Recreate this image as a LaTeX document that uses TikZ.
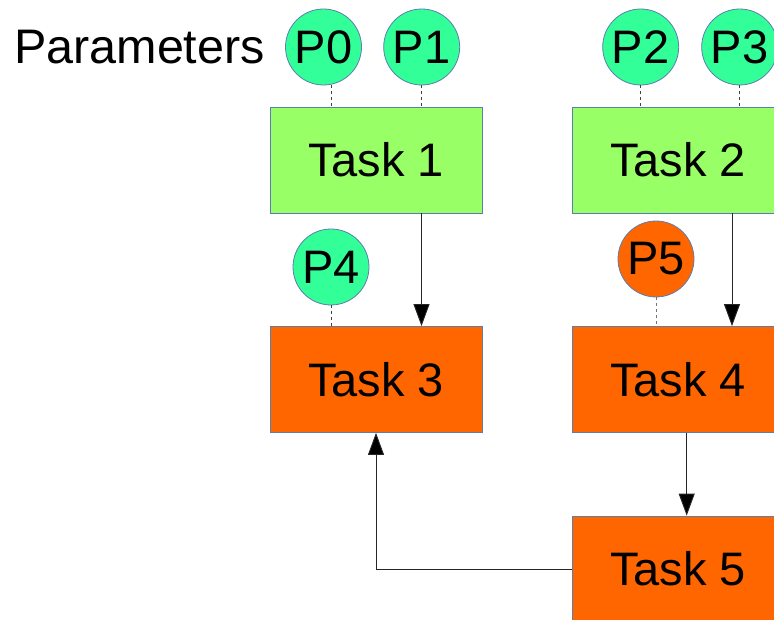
\documentclass[tikz,border=0pt]{standalone}
\usepackage{fontspec}
\setmainfont{Liberation Sans}
\usetikzlibrary{arrows.meta}
\definecolor{boxgreen}{HTML}{99FF66}
\definecolor{parmint}{HTML}{33FF99}
\definecolor{taskorange}{HTML}{FF6600}
\definecolor{edgeblue}{HTML}{5B7DB0}
\tikzset{
  taskbox/.style={rectangle, draw=edgeblue, line width=0.8pt, minimum width=212pt, minimum height=106pt, inner sep=0pt, font=\fontsize{47}{52}\selectfont},
  greenbox/.style={taskbox, fill=boxgreen},
  orangebox/.style={taskbox, fill=taskorange},
  parcircle/.style={circle, draw=edgeblue, line width=0.8pt, minimum size=76pt, inner sep=0pt, font=\fontsize{47}{52}\selectfont},
  mintpar/.style={parcircle, fill=parmint},
  orangepar/.style={parcircle, fill=taskorange},
  dashline/.style={draw=black!75, line width=0.8pt, dash pattern=on 3pt off 3pt},
  arr/.style={draw=black!85, line width=0.9pt, -{Triangle[length=22pt,width=16pt,fill=black]}}
}
\begin{document}
\begin{tikzpicture}[x=1pt,y=-1pt]
\useasboundingbox (0,0) rectangle (774,620);
\clip (0,0) rectangle (774,620);
% parameters label
\node[anchor=west, inner sep=0pt, font=\fontsize{48.5}{54}\selectfont] (lab) at (14,47) {Parameters};
% tasks
\node[greenbox] (t1) at (376,160) {Task 1};
\node[greenbox] (t2) at (678,160) {Task 2};
\node[orangebox] (t3) at (376,379.5) {Task 3};
\node[orangebox] (t4) at (678,379.5) {Task 4};
\node[orangebox] (t5) at (678,569) {Task 5};
% parameters
\node[mintpar] (p0) at (323.5,47) {P0};
\node[mintpar] (p1) at (421.7,47) {P1};
\node[mintpar] (p2) at (640.7,47) {P2};
\node[mintpar] (p3) at (739.7,47) {P3};
\node[mintpar] (p4) at (331,267) {P4};
\node[orangepar] (p5) at (656,259) {P5};
% dashed parameter links
\draw[dashline] ([xshift=7.5pt]p0.south) -- ([xshift=7.5pt]p0.south |- t1.north);
\draw[dashline] (p1.south) -- (p1.south |- t1.north);
\draw[dashline] (p2.south) -- (p2.south |- t2.north);
\draw[dashline] (p3.south) -- (p3.south |- t2.north);
\draw[dashline] (p4.south) -- (p4.south |- t3.north);
\draw[dashline, draw=black!55] (p5.south) -- (p5.south |- t4.north);
% arrows
\draw[arr] ([xshift=45.5pt]t1.south) -- ([xshift=45.5pt]t3.north);
\draw[arr] ([xshift=54pt]t2.south) -- ([xshift=54pt]t4.north);
\draw[arr] ([xshift=8.7pt]t4.south) -- ([xshift=8.7pt]t5.north);
\draw[arr] (t5.west) -| (t3.south);
\end{tikzpicture}
\end{document}
